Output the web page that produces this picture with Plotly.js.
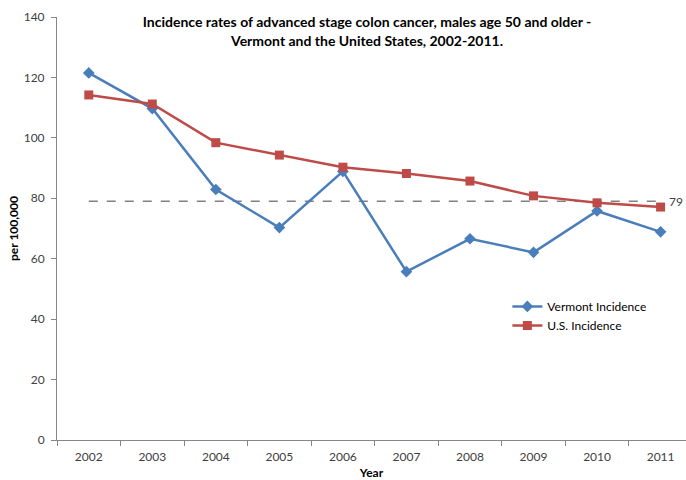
<!DOCTYPE html>
<html><head><meta charset="utf-8">
<script src="https://cdn.plot.ly/plotly-3.0.1.min.js"></script>
<style>body{margin:0;background:#fff}#c{width:686px;height:480px}</style>
</head><body><div id="c"></div>
<script>
const years = ['2002','2003','2004','2005','2006','2007','2008','2009','2010','2011'];
const vermont = [121.5, 109.7, 82.9, 70.3, 88.9, 55.7, 66.6, 62.1, 75.8, 68.9];
const us = [114.2, 111.2, 98.4, 94.3, 90.3, 88.2, 85.7, 80.8, 78.5, 77.1];
const target = [79, 79, 79, 79, 79, 79, 79, 79, 79, 79];
const targetLabel = '79';
const yTicks = [0, 20, 40, 60, 80, 100, 120, 140];

const font = 'Lato, "Open Sans", sans-serif';
const traces = [
  {x: years, y: target, mode: 'lines', showlegend: false, hoverinfo: 'skip',
   line: {color: '#808080', width: 1.5, dash: 'dash'}},
  {x: years, y: vermont, name: 'Vermont Incidence', mode: 'lines+markers',
   line: {color: '#4A7EBB', width: 2.5}, marker: {symbol: 'diamond', size: 9, color: '#4A7EBB'}},
  {x: years, y: us, name: 'U.S. Incidence', mode: 'lines+markers',
   line: {color: '#BE4B48', width: 2.5}, marker: {symbol: 'square', size: 9, color: '#BE4B48'}}
];
const layout = {
  width: 686, height: 480,
  margin: {l: 57, r: 0, t: 17, b: 40},
  paper_bgcolor: '#fff', plot_bgcolor: '#fff',
  font: {family: font, size: 12, color: '#404040'},
  title: {text: '<b>Incidence rates of advanced stage colon cancer, males age 50 and older -<br>Vermont and the United States, 2002-2011.</b>',
          font: {family: font, size: 14, color: '#000'}, x: 0.535, xanchor: 'center', y: 0.943, yanchor: 'top'},
  xaxis: {type: 'category', range: [-0.5, 9.4], tickson: 'boundaries', ticks: 'outside', ticklen: 5,
          tickcolor: '#868686', showline: true, linecolor: '#868686', linewidth: 1, showgrid: false, zeroline: false,
          tickfont: {size: 12, color: '#404040'}, ticklabelstandoff: 6,
          title: {text: '<b>Year</b>', font: {family: font, size: 12, color: '#000'}, standoff: 8}},
  yaxis: {range: [0, 140], tickvals: yTicks, ticks: 'outside', ticklen: 5, tickcolor: '#868686',
          showline: true, linecolor: '#868686', linewidth: 1, showgrid: false, zeroline: false,
          tickfont: {size: 12, color: '#404040'}, ticklabelstandoff: 4,
          title: {text: '<b>per 100,000</b>', font: {family: font, size: 12, color: '#000'}, standoff: 2}},
  legend: {x: 0.716, y: 0.35, xanchor: 'left', yanchor: 'top', bgcolor: 'rgba(0,0,0,0)',
           font: {family: font, size: 12, color: '#000'}, itemwidth: 30},
  annotations: [{xref: 'paper', yref: 'y', x: 0.97, y: target[9], text: targetLabel, showarrow: false, xanchor: 'left',
                 font: {family: font, size: 12, color: '#404040'}}]
};
Plotly.newPlot('c', traces, layout, {staticPlot: true});
</script></body></html>
